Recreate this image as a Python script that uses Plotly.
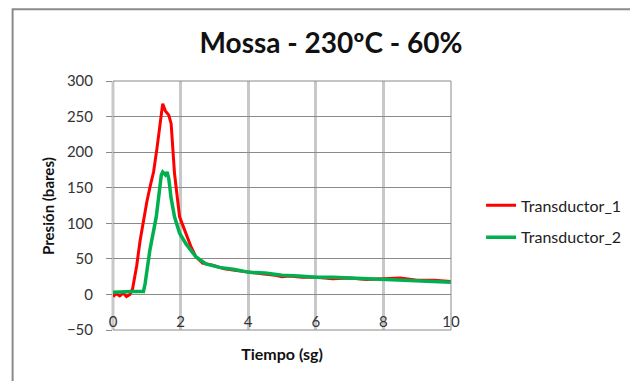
import plotly.graph_objects as go

# Transductor_1 (red)
t1 = [0, 0.1, 0.2, 0.3, 0.4, 0.5, 0.58, 0.7, 0.8, 0.9, 1.0, 1.1, 1.2, 1.3, 1.4, 1.47,
      1.55, 1.65, 1.72, 1.82, 1.97, 2.16, 2.3, 2.45, 2.65, 2.95, 3.3, 3.6, 4.0, 4.4,
      4.8, 5.0, 5.2, 5.6, 6.0, 6.5, 7.0, 7.5, 8.0, 8.5, 9.0, 9.5, 10.0]
p1 = [-3, 1, -2, 2, -3, 0, 8, 40, 75, 104, 130, 152, 172, 205, 240, 268,
      258, 252, 240, 170, 109, 86, 68, 53, 44, 41, 36, 34, 31, 29,
      27, 25, 26, 24, 24, 22, 23, 21, 22, 23, 20, 20, 18]

# Transductor_2 (green)
t2 = [0, 0.3, 0.6, 0.9, 0.95, 1.09, 1.28, 1.43, 1.47, 1.55, 1.6, 1.65, 1.72, 1.82,
      1.97, 2.16, 2.45, 2.75, 3.15, 3.6, 4.03, 4.5, 5.0, 5.5, 6.0, 6.5, 7.0, 7.5,
      8.0, 8.5, 9.0, 9.5, 10.0]
p2 = [3, 4, 4, 4, 15, 62, 109, 168, 172, 168, 172, 163, 135, 109,
      86, 71, 53, 43, 38, 35, 31, 30, 27, 26, 24, 24, 23, 22,
      21, 21, 20, 19, 17]

x_ticks = [0, 2, 4, 6, 8, 10]
y_ticks = [-50, 0, 50, 100, 150, 200, 250, 300]

fig = go.Figure()
fig.add_trace(go.Scatter(x=t1, y=p1, mode="lines", name="Transductor_1",
                         line=dict(color="#FF0000", width=3), legendgroup="a"))
fig.add_trace(go.Scatter(x=t2, y=p2, mode="lines", name="Transductor_2",
                         line=dict(color="#00B050", width=3.5), legendgroup="b"))

font_family = "Lato, 'Open Sans', sans-serif"

fig.update_layout(
    width=630, height=373,
    margin=dict(l=105, r=185, t=73, b=51),
    paper_bgcolor="white", plot_bgcolor="white",
    font=dict(family=font_family, size=15, color="#333"),
    title=dict(text="<b>Mossa - 230ºC - 60%</b>", x=0.5127, xanchor="center",
               y=0.906, yanchor="middle", font=dict(size=28, color="#111")),
    legend=dict(x=1.089, xanchor="left", y=0.436, yanchor="middle",
                tracegroupgap=8, font=dict(size=16, color="#222"),
                bgcolor="rgba(0,0,0,0)"),
    xaxis=dict(range=[0, 10], tickvals=x_ticks, showgrid=True,
               gridcolor="#C8C8C8", gridwidth=3, zeroline=False,
               showline=False, ticks="", ticklabelposition="inside",
               ticklabeloverflow="allow", ticklabelstandoff=-3,
               tickfont=dict(size=15, color="#333"), automargin=False,
               title=dict(text="<b>Tiempo (sg)</b>", standoff=19,
                          font=dict(size=16, color="#111"))),
    yaxis=dict(range=[-50, 300], tickvals=y_ticks, showgrid=True,
               gridcolor="#8A8A8A", gridwidth=1, zeroline=False,
               showline=False, ticks="outside", ticklen=6, tickcolor="#8A8A8A",
               ticklabelstandoff=10, tickfont=dict(size=15, color="#333"),
               automargin=False),
    annotations=[
        dict(text="<b>Presión (bares)</b>", xref="paper", yref="paper",
             x=-0.194, y=0.5, xanchor="center", yanchor="middle",
             textangle=-90, showarrow=False, font=dict(size=15, color="#111")),
    ],
    shapes=[
        dict(type="line", xref="paper", yref="paper", x0=0, x1=0, y0=0, y1=1,
             line=dict(color="#C8C8C8", width=3), layer="below"),
        dict(type="line", xref="paper", yref="paper", x0=0, x1=1, y0=0, y1=0,
             line=dict(color="#8A8A8A", width=1)),
        dict(type="line", xref="paper", yref="paper", x0=0, x1=1, y0=1, y1=1,
             line=dict(color="#8A8A8A", width=1)),
        dict(type="line", xref="paper", yref="paper", x0=1, x1=1, y0=0, y1=1,
             line=dict(color="#8A8A8A", width=1)),
        dict(type="rect", xref="paper", yref="paper", x0=-0.297, x1=2,
             y0=-1, y1=1.288, line=dict(color="#8A8A8A", width=2)),
    ],
)

fig.write_html("out.html")
